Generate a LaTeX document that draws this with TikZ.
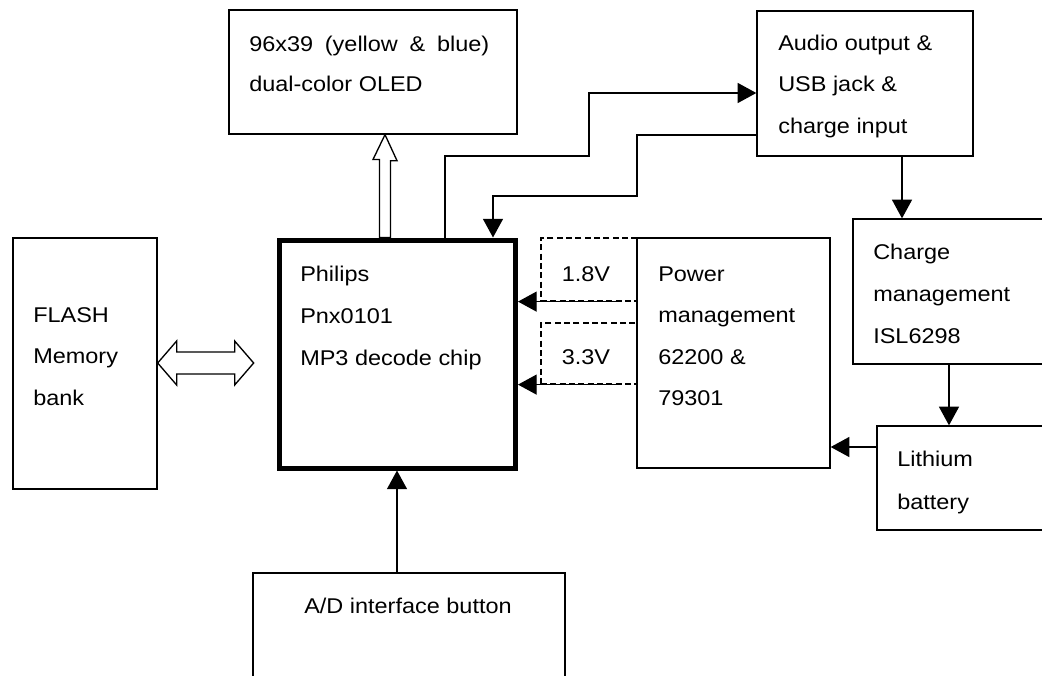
\documentclass[tikz,border=0pt]{standalone}
\usepackage{fontspec}
\setmainfont{Liberation Sans}[FakeStretch=1.1]
\usetikzlibrary{arrows.meta,calc}
\begin{document}
\begin{tikzpicture}[x={(0.75pt,0)},y={(0,-0.75pt)},
  bx/.style 2 args={draw,rectangle,inner sep=0pt,line width=1pt,minimum width=#1*0.75pt,minimum height=#2*0.75pt},
  txt/.style={anchor=base west,inner sep=0pt,font=\fontsize{16pt}{19pt}\selectfont},
  arr/.style={line width=1pt,-{Triangle[length=14pt,width=15pt]}},
  hollow/.style={draw,fill=white,line width=1pt,line join=miter},
  dsh/.style={draw,rectangle,inner sep=0pt,line width=0.9pt,dash pattern=on 4.5pt off 2.5pt}]
\useasboundingbox (0,0) rectangle (1042,675);
\clip (0,0) rectangle (1042,675);
% boxes
\node[bx={288}{124}] (oled) at (373,72) {};
\node[bx={216}{145}] (audio) at (865,83.5) {};
\node[bx={144}{251}] (flash) at (85,363.5) {};
\node[bx={236}{228},line width=3.75pt] (main) at (397.5,354) {};
\node[bx={193}{230}] (power) at (733.5,353) {};
\node[bx={197}{145}] (charge) at (951.5,291.5) {};
\node[bx={173}{104}] (lith) at (963.5,478) {};
\node[bx={312}{127}] (ad) at (409,636.5) {};
\node[dsh,minimum width=96*0.75pt,minimum height=63*0.75pt] (dashA) at (589,269.5) {};
\node[dsh,minimum width=96*0.75pt,minimum height=61*0.75pt] (dashB) at (589,353.5) {};
% texts
\node[txt] (t1) at (249,51) {\makebox[180pt][s]{96x39 (yellow \& blue)}};
\node[txt] (t2) at (249,91) {dual-color OLED};
\node[txt] (t3) at (778,50) {Audio output \&};
\node[txt] (t4) at (778,91) {USB jack \&};
\node[txt] (t5) at (778,133) {charge input};
\node[txt] (t6) at (300,281) {Philips};
\node[txt] (t7) at (300,323) {Pnx0101};
\node[txt] (t8) at (300,365) {MP3 decode chip};
\node[txt] (t9) at (33,322) {FLASH};
\node[txt] (t10) at (33,363) {Memory};
\node[txt] (t11) at (33,405) {bank};
\node[txt] (t12) at (658,281) {Power};
\node[txt] (t13) at (658,322) {management};
\node[txt] (t14) at (658,364) {62200 \&};
\node[txt] (t15) at (658,405) {79301};
\node[txt,anchor=base] (t16) at (586,281) {1.8V};
\node[txt,anchor=base] (t17) at (586,364) {3.3V};
\node[txt] (t18) at (873,259) {Charge};
\node[txt] (t19) at (873,301) {management};
\node[txt] (t20) at (873,343) {ISL6298};
\node[txt] (t21) at (897,466) {Lithium};
\node[txt] (t22) at (897,509) {battery};
\node[txt,anchor=base] (t23) at (408,613) {A/D interface button};
% hollow arrows
\path[hollow] (385,0 |- oled.south) -- ++(12,26) -- ++(-6.5,0) -- (390.5,0 |- main.north) -- (379.5,0 |- main.north) -- ++(0,-78) -- ++(-6.5,0) -- cycle;
\path[hollow] (flash.east |- 0,363) -- ++(19,-22) -- ++(0,11) -- ++(58,0) -- ++(0,-11) -- ++(19,22) -- ++(-19,22) -- ++(0,-11) -- ++(-58,0) -- ++(0,11) -- cycle;
% connectors
\draw[arr] (445,0 |- main.north) |- (589,156) |- (audio.west |- 0,93);
\draw[arr] (audio.west |- 0,135) -| (637,196) -| (493,0 |- main.north);
\draw[arr] (618,0 |- dashA.south) -- (main.east |- dashA.south);
\draw[arr] (618,0 |- dashB.south) -- (main.east |- dashB.south);
\draw[arr] (902,0 |- audio.south) -- (902,0 |- charge.north);
\draw[arr] (949,0 |- charge.south) -- (949,0 |- lith.north);
\draw[arr] (lith.west |- 0,447) -- (power.east |- 0,447);
\draw[arr] (397,0 |- ad.north) -- (397,0 |- main.south);
\end{tikzpicture}
\end{document}
